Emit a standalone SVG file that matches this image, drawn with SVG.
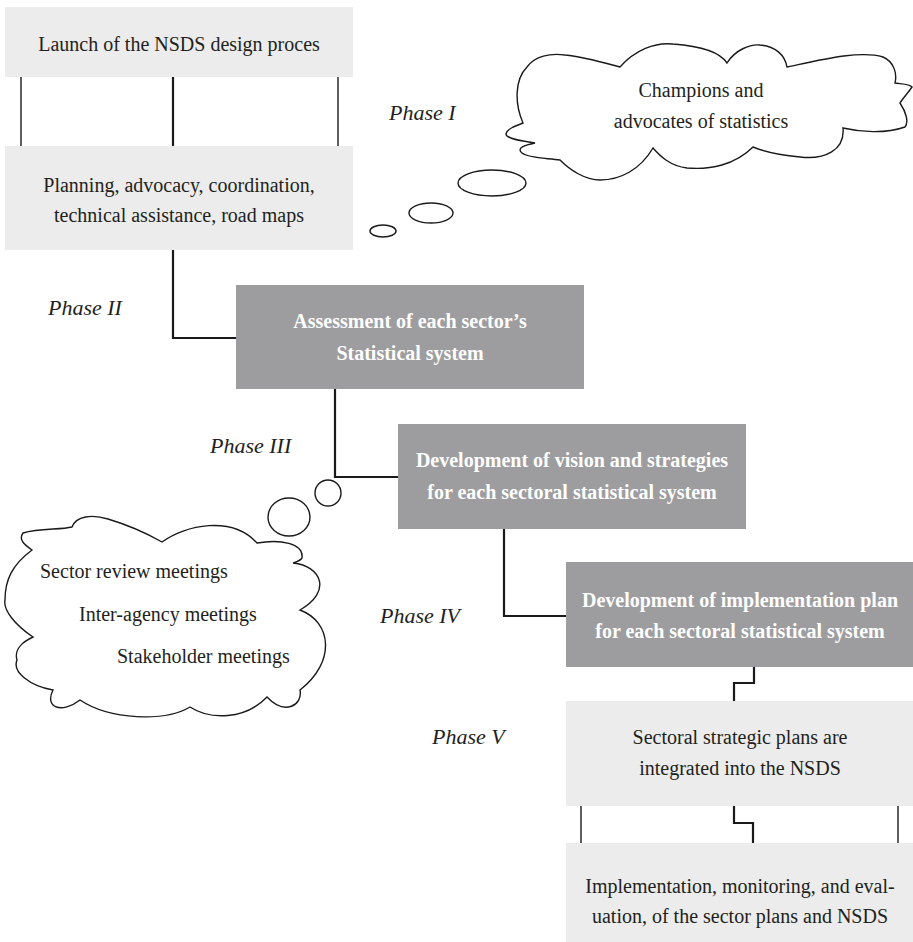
<svg xmlns="http://www.w3.org/2000/svg" width="913" height="942" viewBox="0 0 913 942">
<style>
.light{fill:#ebeceb}
.dark{fill:#9d9d9f}
.t{font-family:"Liberation Serif",serif;font-size:20px;fill:#231f20;text-anchor:middle}
.tl{font-family:"Liberation Serif",serif;font-size:20px;fill:#231f20}
.b{font-family:"Liberation Serif",serif;font-size:20px;font-weight:bold;fill:#ffffff;text-anchor:middle}
.ph{font-family:"Liberation Serif",serif;font-size:22px;font-style:italic;fill:#231f20}
.c{fill:none;stroke:#1a1a1a;stroke-width:2.2}
.s{fill:none;stroke:#1a1a1a;stroke-width:1.4}
.cl{fill:#ffffff;stroke:#1a1a1a;stroke-width:1.4}
</style>
<rect width="913" height="942" fill="#ffffff"/>
<g id="connectors">
<line class="s" x1="21" y1="77" x2="21" y2="146"/>
<line class="c" x1="173" y1="77" x2="173" y2="146"/>
<line class="s" x1="338" y1="77" x2="338" y2="146"/>
<polyline class="c" points="173,250 173,338 236,338"/>
<polyline class="c" points="335,389 335,477 398,477"/>
<polyline class="c" points="504,529 504,616 566,616"/>
<polyline class="c" points="754,667 754,683 734,683 734,701"/>
<line class="s" x1="581" y1="806" x2="581" y2="843"/>
<polyline class="c" points="734,806 734,823 753,823 753,843"/>
<line class="s" x1="898" y1="806" x2="898" y2="843"/>
</g>
<g id="n1">
<rect class="light" x="5" y="7" width="348" height="70"/>
<text class="t" x="179" y="51">Launch of the NSDS design proces</text>
</g>
<g id="n2">
<rect class="light" x="5" y="146" width="348" height="104"/>
<text class="t" x="179" y="192">Planning, advocacy, coordination,</text>
<text class="t" x="179" y="222">technical assistance, road maps</text>
</g>
<g id="n3">
<rect class="dark" x="236" y="285" width="348" height="104"/>
<text class="b" x="410" y="328">Assessment of each sector’s</text>
<text class="b" x="410" y="360">Statistical system</text>
</g>
<g id="n4">
<rect class="dark" x="398" y="424" width="348" height="105"/>
<text class="b" x="572" y="467">Development of vision and strategies</text>
<text class="b" x="572" y="499">for each sectoral statistical system</text>
</g>
<g id="n5">
<rect class="dark" x="566" y="562" width="347" height="105"/>
<text class="b" x="740" y="607">Development of implementation plan</text>
<text class="b" x="740" y="638">for each sectoral statistical system</text>
</g>
<g id="n6">
<rect class="light" x="566" y="701" width="347" height="105"/>
<text class="t" x="740" y="744">Sectoral strategic plans are</text>
<text class="t" x="740" y="775">integrated into the NSDS</text>
</g>
<g id="n7">
<rect class="light" x="566" y="843" width="347" height="99"/>
<text class="t" x="740" y="893">Implementation, monitoring, and eval-</text>
<text class="t" x="740" y="923">uation, of the sector plans and NSDS</text>
</g>
<g id="cloud1">
<path class="cl" d="M523,123 C515,105 514,80 527,67 C535,56 550,53 565,55 C585,57 605,63 620,67 C635,50 655,42 673,44 C700,46 720,52 727,63 C735,50 750,44 760,45 C775,46 785,55 787,67 C820,60 860,50 883,57 C895,62 897,75 895,83 C902,84 910,84 912,87 C908,93 903,98 900,103 C906,112 909,122 905,127 C885,134 860,132 843,128 C845,150 825,160 800,157 C780,155 765,152 753,147 C735,165 710,170 687,168 C670,166 660,156 653,148 C640,170 620,180 600,180 C585,180 570,170 560,160 C545,158 528,158 522,153 C516,148 525,145 535,143 C522,141 506,139 506,134 C507,129 515,126 523,123 Z"/>
<ellipse class="cl" cx="492" cy="183" rx="34" ry="13"/>
<ellipse class="cl" cx="431" cy="213" rx="22" ry="10"/>
<ellipse class="cl" cx="383" cy="231" rx="13" ry="6"/>
<text class="t" x="701" y="97">Champions and</text>
<text class="t" x="701" y="128">advocates of statistics</text>
</g>
<g id="cloud2">
<path class="cl" d="M23,533 C40,528 60,530 72,527 C76,516 92,514 108,519 C128,525 148,534 162,542 C185,525 232,515 257,543 C280,539 304,543 302,558 C300,561 296,562 293,563 C322,566 332,592 300,610 C332,622 336,662 300,690 C303,705 285,716 267,697 C245,720 210,720 190,707 C165,722 110,720 80,700 C62,714 44,708 53,690 C30,686 12,672 17,660 C14,650 22,642 33,637 C15,625 3,610 5,600 C5,580 12,565 32,550 C25,545 18,540 23,533 Z"/>
<ellipse class="cl" cx="328" cy="493" rx="13" ry="13"/>
<ellipse class="cl" cx="289" cy="517" rx="21" ry="19"/>
<text class="tl" x="40" y="578">Sector review meetings</text>
<text class="tl" x="79" y="621">Inter-agency meetings</text>
<text class="tl" x="117" y="663">Stakeholder meetings</text>
</g>
<g id="labels">
<text class="ph" x="389" y="120">Phase I</text>
<text class="ph" x="48" y="315">Phase II</text>
<text class="ph" x="210" y="453">Phase III</text>
<text class="ph" x="380" y="623">Phase IV</text>
<text class="ph" x="432" y="744">Phase V</text>
</g>
</svg>
